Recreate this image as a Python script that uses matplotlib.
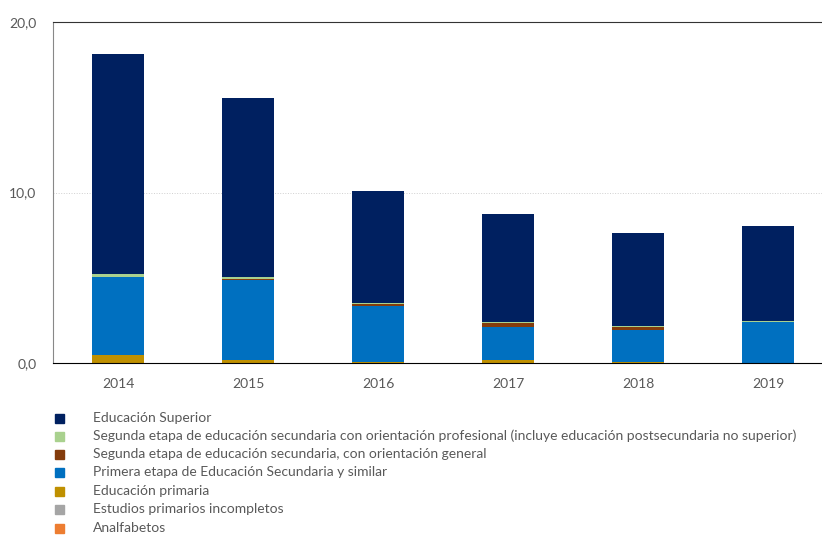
import numpy as np
import matplotlib.pyplot as plt
from matplotlib.patches import Rectangle

plt.rcParams['font.family'] = ['Lato', 'DejaVu Sans']

years = ['2014', '2015', '2016', '2017', '2018', '2019']

# series from bottom of the stack to the top
analfabetos = [0.0, 0.0, 0.0, 0.0, 0.0, 0.0]
incompletos = [0.0, 0.0, 0.0, 0.0, 0.0, 0.0]
primaria = [0.45, 0.18, 0.06, 0.18, 0.06, 0.0]
primera_etapa = [4.6, 4.7, 3.27, 1.92, 1.9, 2.4]
seg_general = [0.0, 0.05, 0.14, 0.25, 0.15, 0.0]
seg_profesional = [0.18, 0.1, 0.03, 0.03, 0.05, 0.08]
superior = [12.9, 10.5, 6.6, 6.33, 5.45, 5.56]

series = [analfabetos, incompletos, primaria, primera_etapa,
          seg_general, seg_profesional, superior]
labels = ['Analfabetos', 'Estudios primarios incompletos', 'Educación primaria',
          'Primera etapa de Educación Secundaria y similar',
          'Segunda etapa de educación secundaria, con orientación general',
          'Segunda etapa de educación secundaria con orientación profesional (incluye educación postsecundaria no superior)',
          'Educación Superior']
colors = ['#ED7D31', '#A5A5A5', '#BF9000', '#0070C0', '#843C0C', '#A9D18E', '#002060']

W, H = 822, 536
fig = plt.figure(figsize=(W / 100, H / 100), dpi=100)
ax = fig.add_axes([53 / W, 1 - 363 / H, 780 / W, 341 / H])

x = np.arange(len(years))
bottom = np.zeros(len(years))
for vals, c in zip(series, colors):
    ax.bar(x, vals, bottom=bottom, width=0.4, color=c, edgecolor='none')
    bottom += np.array(vals)

ax.set_xlim(-0.5, len(years) - 0.5)
ax.set_ylim(0, 20)
ax.set_yticks([0, 10, 20])
ax.set_yticklabels(['0,0', '10,0', '20,0'])
ax.set_xticks(x)
ax.set_xticklabels(years)
ax.tick_params(length=0, labelsize=10, colors='#595959', pad=11)
ax.tick_params(axis='y', pad=12)
ax.axhline(10, color='#D0D0D0', lw=0.7, ls=':', zorder=0)
ax.spines['left'].set_color('#888888')
ax.spines['bottom'].set_color('#000000')
ax.spines['top'].set_color('#333333')
ax.spines['right'].set_visible(False)

# legend, top row first
ys = [418, 436, 454, 472, 491, 509, 528]
for i, (lab, c) in enumerate(zip(labels[::-1], colors[::-1])):
    yy = ys[i]
    fig.patches.append(Rectangle((55 / W, 1 - (yy + 4.5) / H), 8.5 / W, 8.5 / H,
                                 transform=fig.transFigure, color=c))
    fig.text(93 / W, 1 - yy / H, lab, fontsize=10, color='#595959', va='center')

fig.savefig('out.png', dpi=100)
